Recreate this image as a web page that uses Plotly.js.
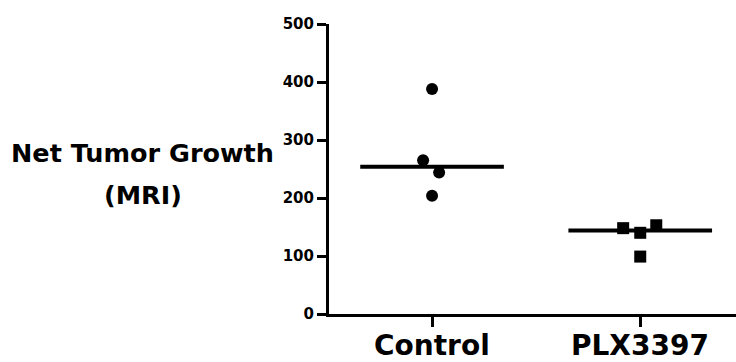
<!DOCTYPE html>
<html>
<head>
<meta charset="utf-8">
<script src="https://cdn.plot.ly/plotly-3.0.1.min.js"></script>
<style>html,body{margin:0;padding:0;background:#fff;}#chart{width:736px;height:362px;}</style>
</head>
<body>
<div id="chart"></div>
<script>
// Data
var categories = ["Control", "PLX3397"];
var controlValues = [388, 265, 244, 204];
var plxValues = [148, 140, 153, 99];
var medians = [254, 144];
var yTickValues = [0, 100, 200, 300, 400, 500];
var yTitleLines = ["Net Tumor Growth", "(MRI)"];

// Horizontal scatter offsets (layout only)
var controlOffsets = [0, -0.043, 0.034, 0];
var plxOffsets = [-0.082, 0, 0.077, 0];
var halfWidth = 0.345;

var font = "DejaVu Sans, Arial, sans-serif";

var traces = [];
traces.push({
  type: "scatter", mode: "markers",
  x: controlValues.map(function(v, i){ return 0 + controlOffsets[i]; }),
  y: controlValues,
  marker: {symbol: "circle", size: 12, color: "#000"},
  showlegend: false, hoverinfo: "y"
});
traces.push({
  type: "scatter", mode: "markers",
  x: plxValues.map(function(v, i){ return 1 + plxOffsets[i]; }),
  y: plxValues,
  marker: {symbol: "square", size: 12, color: "#000"},
  showlegend: false, hoverinfo: "y"
});
medians.forEach(function(m, i){
  traces.push({
    type: "scatter", mode: "lines",
    x: [i - halfWidth, i + halfWidth],
    y: [m, m],
    line: {color: "#000", width: 4},
    showlegend: false, hoverinfo: "skip"
  });
});

var annotations = [
  {text: yTitleLines[0], xref: "paper", yref: "paper", x: -0.458, y: 0.555,
   xanchor: "center", yanchor: "middle", showarrow: false,
   font: {family: font, size: 25.5, color: "#000", weight: "bold"}},
  {text: yTitleLines[1], xref: "paper", yref: "paper", x: -0.458, y: 0.409,
   xanchor: "center", yanchor: "middle", showarrow: false,
   font: {family: font, size: 25.5, color: "#000", weight: "bold"}}
];
categories.forEach(function(c, i){
  annotations.push({text: c, xref: "x", yref: "paper", x: i, y: -0.107,
    xanchor: "center", yanchor: "middle", showarrow: false,
    font: {family: font, size: 28, color: "#000", weight: "bold"}});
});

var layout = {
  width: 736, height: 362,
  margin: {l: 329, r: 0, t: 24, b: 48},
  paper_bgcolor: "#fff", plot_bgcolor: "#fff",
  showlegend: false,
  xaxis: {
    range: [-0.495, 1.46],
    tickmode: "array", tickvals: [0, 1], ticktext: categories,
    showticklabels: false,
    showgrid: false, zeroline: false,
    showline: true, linecolor: "#000", linewidth: 3,
    ticks: "outside", ticklen: 10, tickwidth: 3, tickcolor: "#000"
  },
  yaxis: {
    range: [0, 500],
    tickmode: "array", tickvals: yTickValues,
    showgrid: false, zeroline: false,
    showline: true, linecolor: "#000", linewidth: 3,
    ticks: "outside", ticklen: 9, tickwidth: 3, tickcolor: "#000",
    tickfont: {family: font, size: 15, color: "#000", weight: "bold"}
  },
  annotations: annotations
};

Plotly.newPlot("chart", traces, layout, {displayModeBar: false, staticPlot: true});
</script>
</body>
</html>
